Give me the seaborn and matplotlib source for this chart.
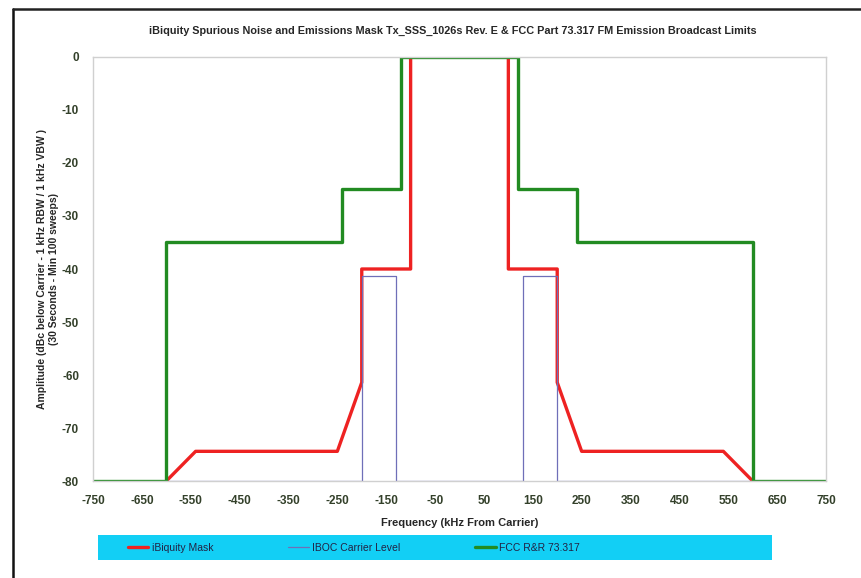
import matplotlib
matplotlib.use("Agg")
import matplotlib.pyplot as plt
import seaborn as sns
import pandas as pd
from matplotlib.lines import Line2D
from matplotlib.patches import Rectangle

# Data (kHz from carrier, dBc)
mask_freq = [-600, -540, -250, -200, -200, -100, -100, 100, 100, 200, 200, 250, 540, 600]
mask_db = [-80, -74.4, -74.4, -61.4, -40, -40, 0, 0, -40, -40, -61.4, -74.4, -74.4, -80]

carrier_freq = [-750, -200, -200, -130, -130, 130, 130, 200, 200, 750]
carrier_db = [-80, -80, -41.4, -41.4, -80, -80, -41.4, -41.4, -80, -80]

fcc_freq = [-750, -600, -600, -240, -240, -120, -120, 120, 120, 240, 240, 600, 600, 750]
fcc_db = [-80, -80, -35, -35, -25, -25, 0, 0, -25, -25, -35, -35, -80, -80]

x_ticks = list(range(-750, 751, 100))
y_ticks = list(range(-80, 1, 10))

series = [
    ("iBiquity Mask", mask_freq, mask_db, "#ee2222", 2.4),
    ("IBOC Carrier Level", carrier_freq, carrier_db, "#6f6fb8", 0.9),
    ("FCC R&R 73.317", fcc_freq, fcc_db, "#228b22", 2.4),
]

sns.set_theme(style="white")
plt.rcParams['font.family'] = ['Liberation Sans', 'DejaVu Sans']
plt.rcParams['axes.unicode_minus'] = False

fig = plt.figure(figsize=(8.62, 5.78), dpi=100)
ax = fig.add_axes([0.1079, 0.1678, 0.8503, 0.7336])

for name, fx, fy, col, lw in series:
    df = pd.DataFrame({"freq": fx, "db": fy})
    sns.lineplot(data=df, x="freq", y="db", ax=ax, sort=False, estimator=None,
                 color=col, linewidth=lw, label=name)

ax.set_xlim(-750, 750)
ax.set_ylim(-80, 0)
ax.set_xticks(x_ticks)
ax.set_yticks(y_ticks)
ax.tick_params(axis="both", length=0, pad=10, labelsize=8.5, labelcolor="#33402a")
for lab in ax.get_xticklabels() + ax.get_yticklabels():
    lab.set_fontweight("bold")
for s in ax.spines.values():
    s.set_color("#d0d0d0")
    s.set_linewidth(1.0)

ax.set_xlabel("Frequency (kHz From Carrier)", fontsize=8, fontweight="bold", labelpad=8)
ax.set_ylabel("Amplitude (dBc below Carrier - 1 kHz RBW / 1 kHz VBW )\n(30 Seconds - Min 100 sweeps)",
              fontsize=7.5, fontweight="bold", labelpad=2)
fig.text(0.525, 0.947,
         "iBiquity Spurious Noise and Emissions Mask Tx_SSS_1026s Rev. E & FCC Part 73.317 FM Emission Broadcast Limits",
         ha="center", va="center", fontsize=7.8, fontweight="bold")

# cyan legend strip
fig.add_artist(Rectangle((0.1137, 0.031), 0.782, 0.043, transform=fig.transFigure,
                         facecolor="#12cff5", edgecolor="none", zorder=0))

ax.get_legend().remove()
handles, labels = ax.get_legend_handles_labels()
leg = fig.legend(handles, labels, loc="center left", ncol=3, frameon=False,
                 bbox_to_anchor=(0.148, 0.0525), fontsize=7.5, handlelength=2.0,
                 handletextpad=0.3, columnspacing=7.2, borderpad=0, borderaxespad=0)
for t in leg.get_texts():
    t.set_color("#222244")

# scanned page border (left and top)
fig.add_artist(Line2D([0.015, 0.015], [0.0, 0.985], color="#111111", linewidth=1.8))
fig.add_artist(Line2D([0.015, 1.0], [0.985, 0.985], color="#222222", linewidth=1.8))

fig.savefig("out.png", dpi=100)
